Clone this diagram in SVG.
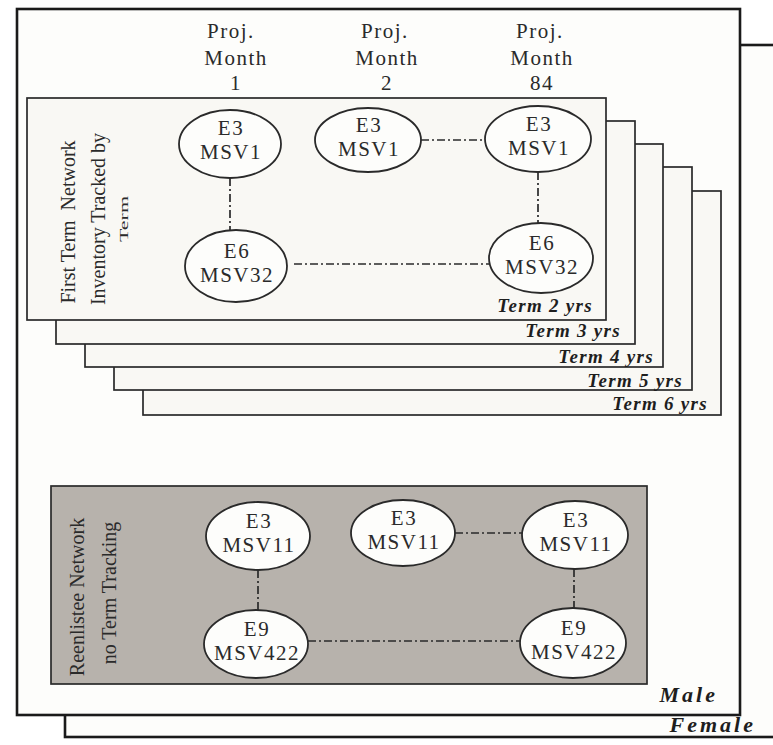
<svg xmlns="http://www.w3.org/2000/svg" width="773" height="745" viewBox="0 0 773 745">
<style>
.frame{fill:#fdfdfb;stroke:#1a1a1a;stroke-width:2.6}
.term{fill:#f9f8f4;stroke:#2a2a2a;stroke-width:1.7}
.node{fill:#fdfdfb;stroke:#2a2a2a;stroke-width:1.8}
.conn{stroke:#2a2a2a;stroke-width:1.7;stroke-dasharray:8 3 2 3;fill:none}
.t{font-family:"Liberation Serif","Times New Roman",serif;font-size:21px;letter-spacing:1.5px;fill:#2a2a2a;text-anchor:middle}
.lbl{font-family:"Liberation Serif","Times New Roman",serif;font-size:19px;letter-spacing:1.3px;font-weight:bold;font-style:italic;fill:#1e1e1e;text-anchor:end}
.big{font-size:22px;letter-spacing:3px}
.v{font-family:"Liberation Serif","Times New Roman",serif;font-size:20px;fill:#2a2a2a;text-anchor:middle}
</style>
<rect width="773" height="745" fill="#ffffff"/>
<g id="female-frame">
<rect class="frame" x="65" y="45" width="730" height="692"/>
<text class="lbl big" x="756" y="732">Female</text>
</g>
<g id="male-frame">
<rect class="frame" x="17" y="9" width="723" height="706"/>
<text class="lbl big" x="718" y="702">Male</text>
</g>
<g id="header">
<text class="t" x="231" y="38">Proj.</text>
<text class="t" x="236" y="65">Month</text>
<text class="t" x="236" y="90">1</text>
<text class="t" x="385" y="38">Proj.</text>
<text class="t" x="387" y="65">Month</text>
<text class="t" x="387" y="90">2</text>
<text class="t" x="540" y="38">Proj.</text>
<text class="t" x="542" y="65">Month</text>
<text class="t" x="542" y="90">84</text>
</g>
<g id="term6"><rect class="term" x="143" y="191" width="578" height="224"/><text class="lbl" x="708" y="410">Term 6 yrs</text></g>
<g id="term5"><rect class="term" x="114" y="167" width="578" height="223"/><text class="lbl" x="683" y="387">Term 5 yrs</text></g>
<g id="term4"><rect class="term" x="85" y="144" width="578" height="223"/><text class="lbl" x="654" y="363">Term 4 yrs</text></g>
<g id="term3"><rect class="term" x="56" y="121" width="579" height="223"/><text class="lbl" x="621" y="337">Term 3 yrs</text></g>
<g id="term2"><rect class="term" x="27" y="98" width="579" height="222"/><text class="lbl" x="593" y="312">Term 2 yrs</text>
<text class="v" xml:space="preserve" transform="translate(75,222) rotate(-90)">First Term  Network</text>
<text class="v" transform="translate(105,219) rotate(-90)">Inventory Tracked by</text>
<text class="v" style="font-size:12px" textLength="46" lengthAdjust="spacingAndGlyphs" transform="translate(128,219) rotate(-90)">Term</text>
</g>
<g id="reenlistee">
<rect x="51" y="486" width="596" height="198" fill="#b7b2ac" stroke="#2a2a2a" stroke-width="1.7"/>
<text class="v" transform="translate(84,597) rotate(-90)">Reenlistee Network</text>
<text class="v" transform="translate(116,593) rotate(-90)">no Term Tracking</text>
</g>
<g id="connectors">
<line class="conn" x1="230" y1="178" x2="230" y2="230"/>
<line class="conn" x1="421" y1="140" x2="485" y2="140"/>
<line class="conn" x1="538" y1="172" x2="538" y2="223"/>
<line class="conn" x1="294" y1="264" x2="489" y2="264"/>
<line class="conn" x1="258" y1="570" x2="258" y2="610"/>
<line class="conn" x1="455" y1="533" x2="522" y2="533"/>
<line class="conn" x1="574" y1="569" x2="574" y2="608"/>
<line class="conn" x1="308" y1="641" x2="520" y2="641"/>
</g>
<g id="n-m1-e3"><ellipse class="node" cx="230" cy="144" rx="51" ry="34"/><text class="t" x="231" y="135">E3</text><text class="t" x="231" y="159">MSV1</text></g>
<g id="n-m2-e3"><ellipse class="node" cx="368" cy="140" rx="53" ry="32"/><text class="t" x="369" y="132">E3</text><text class="t" x="369" y="156">MSV1</text></g>
<g id="n-m84-e3"><ellipse class="node" cx="538" cy="139" rx="53" ry="33"/><text class="t" x="539" y="131">E3</text><text class="t" x="539" y="155">MSV1</text></g>
<g id="n-m1-e6"><ellipse class="node" cx="236" cy="266" rx="51" ry="36"/><text class="t" x="237" y="258">E6</text><text class="t" x="237" y="282">MSV32</text></g>
<g id="n-m84-e6"><ellipse class="node" cx="541" cy="258" rx="52" ry="35"/><text class="t" x="542" y="250">E6</text><text class="t" x="542" y="274">MSV32</text></g>
<g id="r-m1-e3"><ellipse class="node" cx="258" cy="536" rx="52" ry="34"/><text class="t" x="259" y="528">E3</text><text class="t" x="259" y="552">MSV11</text></g>
<g id="r-m2-e3"><ellipse class="node" cx="403" cy="533" rx="52" ry="33"/><text class="t" x="404" y="525">E3</text><text class="t" x="404" y="549">MSV11</text></g>
<g id="r-m84-e3"><ellipse class="node" cx="575" cy="535" rx="53" ry="34"/><text class="t" x="576" y="527">E3</text><text class="t" x="576" y="551">MSV11</text></g>
<g id="r-m1-e9"><ellipse class="node" cx="256" cy="644" rx="52" ry="34"/><text class="t" x="257" y="636">E9</text><text class="t" x="257" y="660">MSV422</text></g>
<g id="r-m84-e9"><ellipse class="node" cx="573" cy="643" rx="53" ry="35"/><text class="t" x="574" y="635">E9</text><text class="t" x="574" y="659">MSV422</text></g>
</svg>
